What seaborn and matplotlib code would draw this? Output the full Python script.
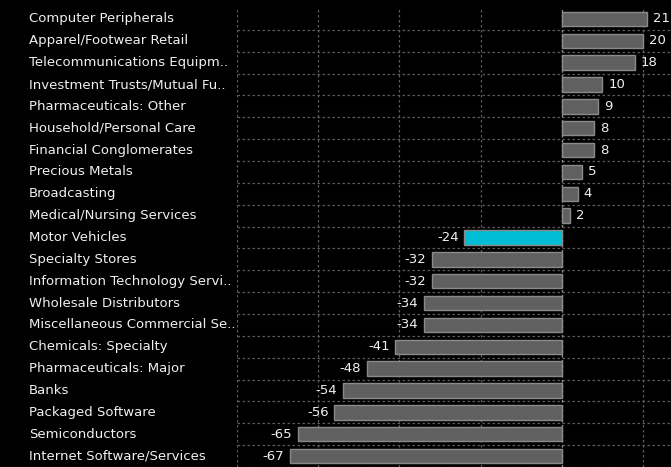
import numpy as np
import pandas as pd
import matplotlib
matplotlib.use("Agg")
import matplotlib.pyplot as plt
import matplotlib.transforms as mtransforms
import seaborn as sns

# Industry performance data
industries = [
    "Computer Peripherals", "Apparel/Footwear Retail", "Telecommunications Equipm..",
    "Investment Trusts/Mutual Fu..", "Pharmaceuticals: Other", "Household/Personal Care",
    "Financial Conglomerates", "Precious Metals", "Broadcasting",
    "Medical/Nursing Services", "Motor Vehicles", "Specialty Stores",
    "Information Technology Servi..", "Wholesale Distributors",
    "Miscellaneous Commercial Se..", "Chemicals: Specialty", "Pharmaceuticals: Major",
    "Banks", "Packaged Software", "Semiconductors", "Internet Software/Services",
]
values = [21, 20, 18, 10, 9, 8, 8, 5, 4, 2, -24, -32, -32, -34, -34, -41, -48, -54, -56, -65, -67]
highlight = "Motor Vehicles"

df = pd.DataFrame({"industry": industries, "value": values})
df["group"] = np.where(df["industry"] == highlight, "hi", "lo")

sns.set_style("dark")
plt.rcParams["font.family"] = ["DejaVu Sans"]

fig = plt.figure(figsize=(6.71, 4.67), dpi=100, facecolor="black")
ax = fig.add_axes([237 / 671, 0, (671 - 237) / 671, 459 / 467])
ax.set_facecolor("black")

sns.barplot(data=df, x="value", y="industry", hue="group", orient="h",
            palette={"hi": "#00bcd4", "lo": "#606060"}, dodge=False, saturation=1,
            width=0.66, edgecolor="#8a8a8a", linewidth=1, legend=False, ax=ax)

ax.set_xlim(-80, 26.9)
ax.set_ylim(20.36, -0.5)
ax.set_xticks([-80, -60, -40, -20, 0, 20])
ax.set_yticks(np.arange(0.5, 21, 1))
ax.grid(True, color="#5c5c5c", linestyle=(0, (2, 2)), linewidth=0.9)
ax.set_axisbelow(True)
ax.axvline(0, color="#8c8c8c", linestyle=(0, (2, 2)), linewidth=0.9, zorder=3)
ax.tick_params(left=False, bottom=False, labelleft=False, labelbottom=False)
for s in ax.spines.values():
    s.set_visible(False)
ax.set_xlabel("")
ax.set_ylabel("")

# category labels on the left
trans = mtransforms.blended_transform_factory(fig.transFigure, ax.transData)
for i, name in enumerate(industries):
    ax.text(29 / 671, i, name, transform=trans, color="#f0f0f0", fontsize=9.5,
            ha="left", va="center", clip_on=False)

# value labels
for i, v in enumerate(values):
    if v >= 0:
        ax.text(v + 1.4, i, str(v), color="#f0f0f0", fontsize=9.5, ha="left", va="center")
    else:
        ax.text(v - 1.4, i, str(v), color="#f0f0f0", fontsize=9.5, ha="right", va="center")

fig.savefig("out.png", dpi=100, facecolor="black")
